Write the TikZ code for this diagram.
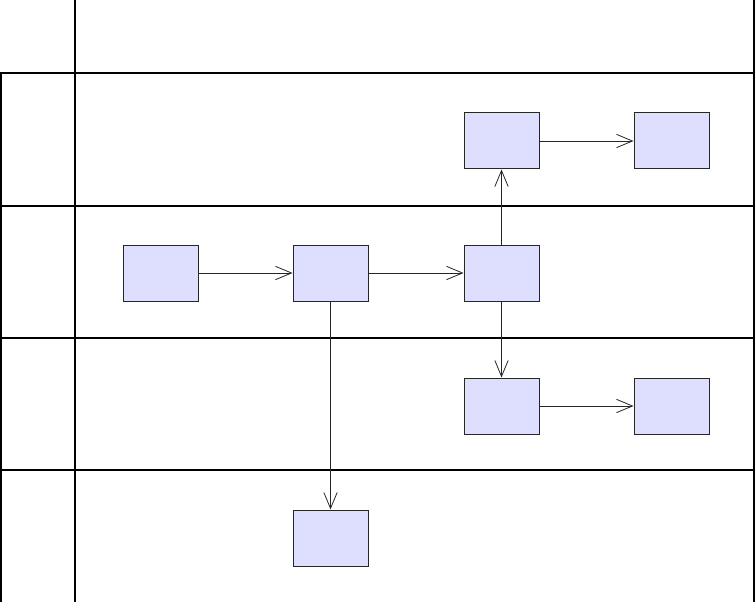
\documentclass[tikz,border=0pt]{standalone}
\usepackage{tikz}
\usetikzlibrary{arrows.meta,positioning}

\begin{document}
\begin{tikzpicture}[
        x=0.75pt,y=-0.75pt,
        lane/.style={line width=1.5pt,draw=black},
        task/.style={draw=black!85,fill=blue!13!white,line width=0.75pt,minimum width=56.25pt,minimum height=42pt,inner sep=0pt},
        flow/.style={-{Straight Barb[length=12pt,width=10pt]},line width=0.6pt,draw=black!85},
        >=Latex
    ]

    \useasboundingbox (0,0) rectangle (755,602);

    % lanes
    \draw[lane] (75,0) -- (75,602);
    \draw[lane] (754,0) -- (754,602);
    \draw[lane] (1,73) -- (1,602);
    \foreach \y in {73,206,338,470}
      \draw[lane] (0,\y) -- (755,\y);

    % tasks
    \node[task] (Ua) at (501.5,141) {};
    \node[task] (Ub) at (671.5,141) {};
    \node[task] (Ma) at (160.5,273) {};
    \node[task] (Mb) at (330.5,273) {};
    \node[task] (Mc) at (501.5,273) {};
    \node[task] (La) at (501.5,406) {};
    \node[task] (Lb) at (671.5,406) {};
    \node[task] (Ba) at (330.5,538) {};

    % flows
    \draw[flow] (Ma) -- (Mb);
    \draw[flow] (Mb) -- (Mc);
    \draw[flow] (Mc) -- (Ua);
    \draw[flow] (Ua) -- (Ub);
    \draw[flow] (Mc) -- (La);
    \draw[flow] (La) -- (Lb);
    \draw[flow] (Mb) -- (Ba);

\end{tikzpicture}
\end{document}
